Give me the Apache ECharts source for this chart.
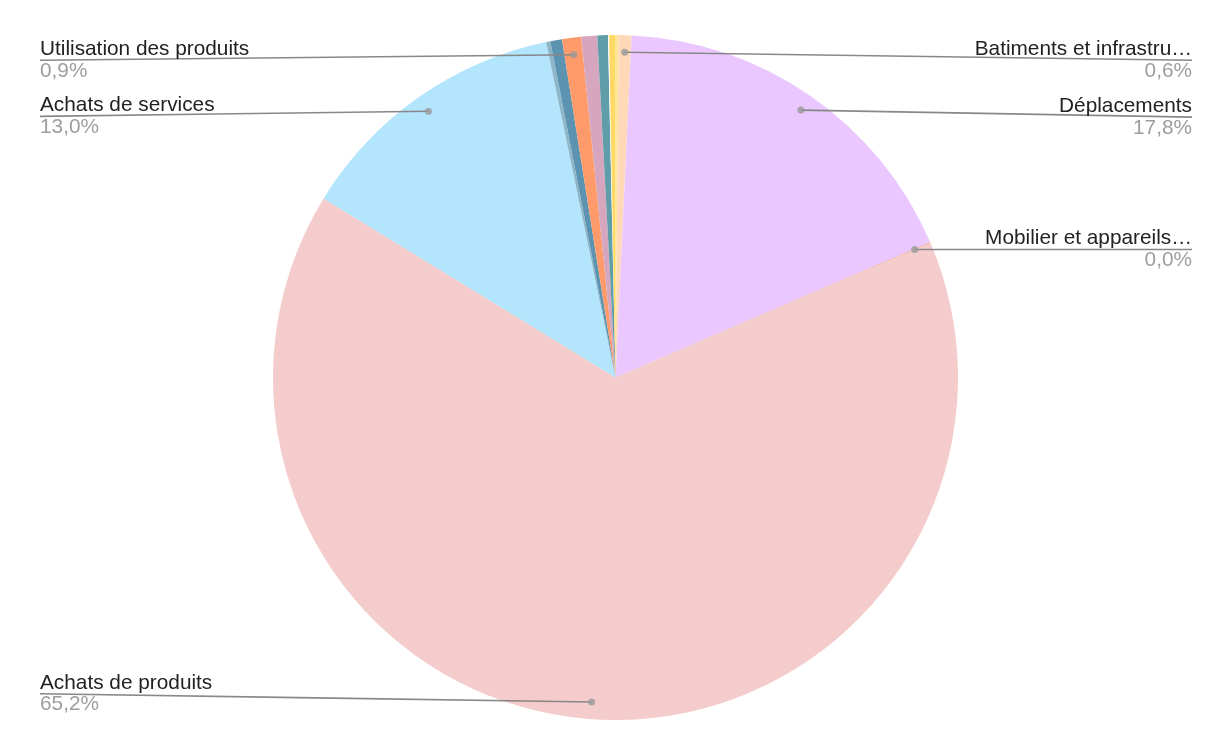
<!DOCTYPE html>
<html><head><meta charset="utf-8">
<script src="https://cdn.jsdelivr.net/npm/echarts@6/dist/echarts.min.js"></script>
<style>html,body{margin:0;padding:0;background:#fff}#c{width:1220px;height:742px}</style>
</head><body><div id="c"></div>
<script>
// ---- data (in percent) ----
const categories = [
  'Fret',
  'Batiments et infrastru…',
  'Déplacements',
  'Mobilier et appareils…',
  'Achats de produits',
  'Achats de services',
  'Fin de vie',
  'Immobilisations',
  'Utilisation des produits',
  'Déchets',
  'Énergie',
  'Numérique',
  'Autres'
];
const values = [0.15, 0.6, 17.8, 0.04, 65.2, 13.0, 0.2, 0.55, 0.9, 0.75, 0.5, 0.05, 0.3];
const showLabel = [false, true, true, true, true, true, false, false, true, false, false, false, false];
const colors = ['#FFE599', '#FFD9B7', '#EAC8FF', '#EFA27E', '#F4CCCC', '#B3E5FC',
                '#8FB5C9', '#5B93B1', '#FF9B6A', '#D5A6BD', '#5F9EA8', '#FFFFFF', '#FFD966'];

// ---- layout constants ----
const W = 1220, H = 742;
const CX = 615.5, CY = 377.5, R = 342.5, DOT_R = 0.95;
const LBL_TOP = 38, LBL_BOTTOM = 26;
const FONT = 'Arial, "Liberation Sans", sans-serif';

const chart = echarts.init(document.getElementById('c'), null, {renderer: 'canvas'});

const total = values.reduce((a, b) => a + b, 0);
const mids = [];
let acc = 0;
values.forEach(v => { mids.push((acc + v / 2) / total * 100); acc += v; });

const fmtPct = v => v.toFixed(1).replace('.', ',') + '%';

const mainData = categories.map((c, i) => ({name: c, value: values[i], itemStyle: {color: colors[i]}}));
const labelData = categories.map((c, i) => ({
  name: c, value: values[i],
  label: {show: showLabel[i], edgeDistance: mids[i] < 50 ? 28 : 40},
  labelLine: {show: showLabel[i]}
}));
const dotData = [];
categories.forEach((c, i) => { if (showLabel[i]) dotData.push([DOT_R, mids[i]]); });

chart.setOption({
  animation: false,
  backgroundColor: '#fff',
  polar: {center: [CX, CY], radius: R},
  angleAxis: {type: 'value', min: 0, max: 100, startAngle: 90, clockwise: true, show: false,
              axisLine: {show: false}, splitLine: {show: false}, axisLabel: {show: false}, axisTick: {show: false}},
  radiusAxis: {type: 'value', min: 0, max: 1, show: false,
               axisLine: {show: false}, splitLine: {show: false}, axisLabel: {show: false}, axisTick: {show: false}},
  series: [
    {
      type: 'pie', center: [CX, CY], radius: [0, R], startAngle: 90, clockwise: true,
      silent: true, itemStyle: {borderWidth: 0},
      label: {show: false}, labelLine: {show: false},
      emphasis: {disabled: true},
      data: mainData, z: 1
    },
    {
      type: 'pie', top: LBL_TOP, bottom: LBL_BOTTOM, left: 0, right: 0,
      center: [CX, CY - LBL_TOP], radius: [0, R * DOT_R], startAngle: 90, clockwise: true,
      silent: true, avoidLabelOverlap: true,
      itemStyle: {color: 'rgba(0,0,0,0)', borderWidth: 0},
      emphasis: {disabled: true},
      label: {
        position: 'outer', alignTo: 'edge', distanceToLabelLine: 0,
        formatter: p => '{n|' + p.name + '}\n{p|' + fmtPct(p.value) + '}',
        rich: {
          n: {fontFamily: FONT, fontSize: 20.8, color: '#222222', lineHeight: 21.5},
          p: {fontFamily: FONT, fontSize: 20.8, color: '#9E9E9E', lineHeight: 21.5}
        }
      },
      labelLine: {length: 0, length2: 10, smooth: false, lineStyle: {color: '#888888', width: 1.6}},
      labelLayout: function (p) {
        const pts = p.labelLinePoints;
        if (!pts) return {};
        const r = p.labelRect;
        const isLeft = r.x + r.width / 2 < W / 2;
        const y = r.y + r.height / 2;
        const endX = isLeft ? r.x : r.x + r.width;
        const s = pts[0];
        return {labelLinePoints: [s, [(s[0] + endX) / 2, (s[1] + y) / 2], [endX, y]]};
      },
      data: labelData, z: 2
    },
    {
      type: 'scatter', coordinateSystem: 'polar', silent: true,
      symbol: 'circle', symbolSize: 7, itemStyle: {color: '#999999'},
      data: dotData, z: 5
    }
  ]
});
</script>
</body></html>
